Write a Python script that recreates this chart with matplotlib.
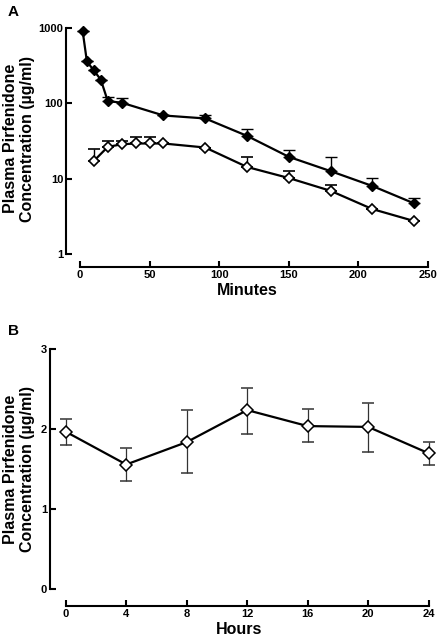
import matplotlib.pyplot as plt

plt.rcParams['font.family'] = ['Liberation Sans', 'DejaVu Sans']
plt.rcParams['font.weight'] = 'bold'

# panel A: minutes after dosing, log scale
t_min = [2, 5, 10, 15, 20, 30, 60, 90, 120, 150, 180, 210, 240]
filled = [900, 360, 273, 206, 107, 102, 69, 63, 37, 19.5, 12.6, 8.0, 4.7]
filled_err = [0, 0, 0, 0, 14, 17, 0, 8, 9, 4.5, 6.9, 2.3, 0.8]

t_open = [10, 20, 30, 40, 50, 60, 90, 120, 150, 180, 210, 240]
opened = [17.2, 26.4, 28.6, 29.3, 29.3, 29.3, 25.9, 14.3, 10.2, 6.9, 3.95, 2.74]
open_err = [7.8, 5.6, 3.1, 6.5, 6.5, 0, 0, 5.2, 2.6, 1.3, 0, 0]

# panel B: hours
hours = [0, 4, 8, 12, 16, 20, 24]
conc_b = [1.97, 1.56, 1.84, 2.24, 2.04, 2.03, 1.70]
err_lo = [0.17, 0.20, 0.39, 0.30, 0.20, 0.31, 0.15]
err_hi = [0.16, 0.21, 0.40, 0.28, 0.21, 0.30, 0.14]

ylabel = 'Plasma Pirfenidone\nConcentration (µg/ml)'
PX = 72 / 100  # points per pixel at dpi 100

fig = plt.figure(figsize=(4.38, 6.4), dpi=100)


def style(ax, xbounds, ybounds, offset_px):
    for s in ['top', 'right']:
        ax.spines[s].set_visible(False)
    ax.spines['left'].set_linewidth(1.5)
    ax.spines['bottom'].set_linewidth(1.5)
    ax.spines['bottom'].set_position(('outward', offset_px * PX))
    ax.spines['bottom'].set_bounds(*xbounds)
    ax.spines['left'].set_bounds(*ybounds)
    ax.tick_params(direction='in', length=4, width=1.5, labelsize=8, pad=2)
    ax.tick_params(which='minor', length=0)
    for lab in ax.get_xticklabels() + ax.get_yticklabels():
        lab.set_fontweight('bold')


# ---- A ----
axA = fig.add_axes([66 / 438, 1 - 254 / 640, (428 - 66) / 438, 226 / 640])
axA.set_yscale('log')
axA.errorbar(t_min, filled, yerr=[[0] * len(filled), filled_err], fmt='-D',
             color='black', mfc='black', mec='black', ms=5.5, lw=1.6,
             elinewidth=1, capsize=4.5, capthick=1, clip_on=False, zorder=3)
axA.errorbar(t_open, opened, yerr=[[0] * len(opened), open_err], fmt='-D',
             color='black', mfc='white', mec='black', ms=5.5, mew=1.2, lw=1.6,
             elinewidth=1, capsize=4.5, capthick=1, clip_on=False, zorder=3)
axA.set_xlim(-10, 250)
axA.set_ylim(1, 1000)
axA.set_xticks([0, 50, 100, 150, 200, 250])
axA.set_yticks([1, 10, 100, 1000])
axA.set_yticklabels(['1', '10', '100', '1000'])
style(axA, (0, 250), (1, 1000), 13)
axA.set_xlabel('Minutes', fontsize=11.5, fontweight='bold', labelpad=2)
axA.set_ylabel(ylabel, fontsize=11.5, fontweight='bold')
axA.yaxis.set_label_coords((35 - 66) / 362, 0.51)
fig.text(8 / 438, 1 - 12 / 640, 'A', fontsize=11, fontweight='bold', va='center')

# ---- B ----
axB = fig.add_axes([50 / 438, 1 - 589.3 / 640, (428.7 - 50) / 438, 240 / 640])
axB.errorbar(hours, conc_b, yerr=[err_lo, err_hi], fmt='-D', color='black',
             mfc='white', mec='black', ms=6.5, mew=1.1, lw=1.6,
             ecolor='#333333', elinewidth=0.9, capsize=4.5, capthick=0.9,
             clip_on=False, zorder=3)
axB.set_xlim(-1.04, 24)
axB.set_ylim(0, 3)
axB.set_xticks(hours)
axB.set_yticks([0, 1, 2, 3])
style(axB, (0, 24), (0, 3), 16.7)
axB.set_xlabel('Hours', fontsize=11.5, fontweight='bold', labelpad=2)
axB.set_ylabel(ylabel, fontsize=11.5, fontweight='bold')
axB.yaxis.set_label_coords((35 - 50) / 378.7, 0.5)
fig.text(8 / 438, 1 - 331 / 640, 'B', fontsize=11, fontweight='bold', va='center')

fig.savefig('out.png', dpi=100)
